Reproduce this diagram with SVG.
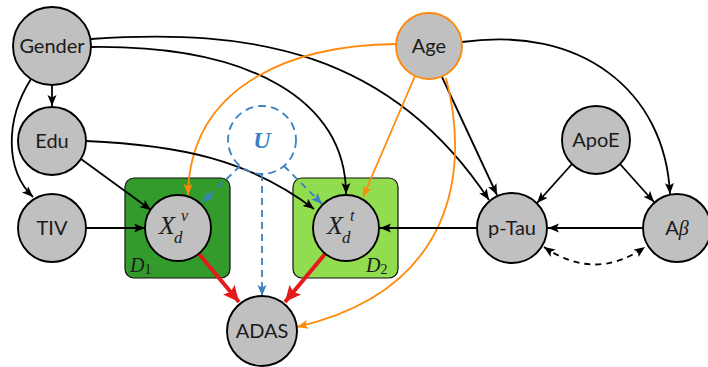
<svg xmlns="http://www.w3.org/2000/svg" width="708" height="367" viewBox="0 0 708 367">
<style>
.node{fill:#c0c0c0;stroke:#000;stroke-width:1.9}
.lbl{font-family:Lato,"Open Sans","DejaVu Sans",sans-serif;font-size:20px;fill:#1a1a1a;text-anchor:middle}
.math{font-family:"Liberation Serif","DejaVu Serif",serif;font-style:italic;fill:#1a1a1a}
.e{fill:none;stroke:#000;stroke-width:1.8}
.o{fill:none;stroke:#ff8a0a;stroke-width:1.8}
.b{fill:none;stroke:#3b80c2;stroke-width:1.8;stroke-dasharray:7,5}
.r{fill:none;stroke:#e41a1c;stroke-width:4}
</style>
<defs>
<marker id="ak" markerUnits="userSpaceOnUse" markerWidth="12" markerHeight="10" refX="11" refY="4.5" orient="auto-start-reverse"><path d="M0,0 L11,4.5 L0,9 L2.5,4.5 Z" fill="#000"/></marker>
<marker id="ao" markerUnits="userSpaceOnUse" markerWidth="12" markerHeight="10" refX="11" refY="4.5" orient="auto"><path d="M0,0 L11,4.5 L0,9 L2.5,4.5 Z" fill="#ff8a0a"/></marker>
<marker id="ab" markerUnits="userSpaceOnUse" markerWidth="12" markerHeight="10" refX="11" refY="4.5" orient="auto"><path d="M0,0 L11,4.5 L0,9 L2.5,4.5 Z" fill="#3b80c2"/></marker>
<marker id="ar" markerUnits="userSpaceOnUse" markerWidth="18" markerHeight="16" refX="16" refY="7.5" orient="auto"><path d="M0,0 L16,7.5 L0,15 L3,7.5 Z" fill="#e41a1c"/></marker>
</defs>

<g id="box-D1"><rect x="125" y="178" width="105" height="100" rx="9" fill="#339b2b" stroke="#111" stroke-width="1.2"/><text class="math" x="130" y="272" font-size="20">D<tspan font-style="normal" font-size="14" dy="2">1</tspan></text></g>
<g id="box-D2"><rect x="293" y="178" width="105" height="100" rx="9" fill="#92dc50" stroke="#111" stroke-width="1.2"/><text class="math" x="366" y="272" font-size="20">D<tspan font-style="normal" font-size="14" dy="2">2</tspan></text></g>

<g id="edges">
<path class="e" d="M52,85 L52,106" marker-end="url(#ak)"/>
<path class="e" d="M31,79 C5,120 5,170 33,197" marker-end="url(#ak)"/>
<path class="e" d="M91,47 C250,45 346,100 346,194" marker-end="url(#ak)"/>
<path class="e" d="M91,39 C250,28 390,50 489,200" marker-end="url(#ak)"/>
<path class="e" d="M442,77 L497,195" marker-end="url(#ak)"/>
<path class="e" d="M462,42 C580,25 665,90 670,194" marker-end="url(#ak)"/>
<path class="o" d="M396,44 C300,45 190,80 188,195" marker-end="url(#ao)"/>
<path class="o" d="M415,76 L363,197" marker-end="url(#ao)"/>
<path class="o" d="M446,78 C470,170 455,290 297,327" marker-end="url(#ao)"/>
<path class="e" d="M81,159 L151,210" marker-end="url(#ak)"/>
<path class="e" d="M86,141 C180,145 250,160 314,209" marker-end="url(#ak)"/>
<path class="e" d="M86,228 L145,228" marker-end="url(#ak)"/>
<path class="b" d="M240,166 L203,202" marker-end="url(#ab)"/>
<path class="b" d="M284,166 L322,204" marker-end="url(#ab)"/>
<path class="b" d="M262,174 L262,296" marker-end="url(#ab)"/>
<path class="r" d="M199,254 L239,302" marker-end="url(#ar)"/>
<path class="r" d="M325,254 L285,302" marker-end="url(#ar)"/>
<path class="e" d="M477,228 L380,228" marker-end="url(#ak)"/>
<path class="e" d="M643,228 L548,228" marker-end="url(#ak)"/>
<path class="e" d="M572,164 L537,203" marker-end="url(#ak)"/>
<path class="e" d="M620,164 L654,202" marker-end="url(#ak)"/>
<path class="e" d="M544,247 Q595,282 645,247" stroke-dasharray="6,5" marker-start="url(#ak)" marker-end="url(#ak)"/>
</g>

<g id="Gender"><circle class="node" cx="52" cy="46" r="39"/><text class="lbl" x="52" y="53">Gender</text></g>
<g id="Edu"><circle class="node" cx="52" cy="141" r="34"/><text class="lbl" x="52" y="148">Edu</text></g>
<g id="TIV"><circle class="node" cx="52" cy="228" r="34"/><text class="lbl" x="52" y="235">TIV</text></g>
<g id="Age"><circle cx="429" cy="46" r="33" fill="#c0c0c0" stroke="#ff8a0a" stroke-width="1.9"/><text class="lbl" x="429" y="53">Age</text></g>
<g id="ApoE"><circle class="node" cx="596" cy="140" r="34"/><text class="lbl" x="596" y="147">ApoE</text></g>
<g id="pTau"><circle class="node" cx="512" cy="228" r="35"/><text class="lbl" x="512" y="235">p-Tau</text></g>
<g id="Abeta"><circle class="node" cx="677" cy="228" r="34"/><text class="lbl" x="677" y="235">A<tspan class="math" font-size="20">β</tspan></text></g>
<g id="U"><circle cx="262" cy="140" r="34" fill="none" stroke="#3b80c2" stroke-width="1.8" stroke-dasharray="8,5"/><text x="262" y="148" font-family="Liberation Serif,serif" font-style="italic" font-weight="bold" font-size="24" fill="#3b80c2" text-anchor="middle">U</text></g>
<g id="Xv"><circle class="node" cx="178" cy="228" r="33"/><text class="math" x="159" y="234" font-size="26">X</text><text class="math" x="181" y="221" font-size="16">v</text><text class="math" x="174" y="243" font-size="17">d</text></g>
<g id="Xt"><circle class="node" cx="346" cy="228" r="33"/><text class="math" x="327" y="234" font-size="26">X</text><text class="math" x="350" y="221" font-size="16">t</text><text class="math" x="342" y="243" font-size="17">d</text></g>
<g id="ADAS"><circle class="node" cx="262" cy="331" r="35"/><text class="lbl" x="262" y="338">ADAS</text></g>
</svg>
